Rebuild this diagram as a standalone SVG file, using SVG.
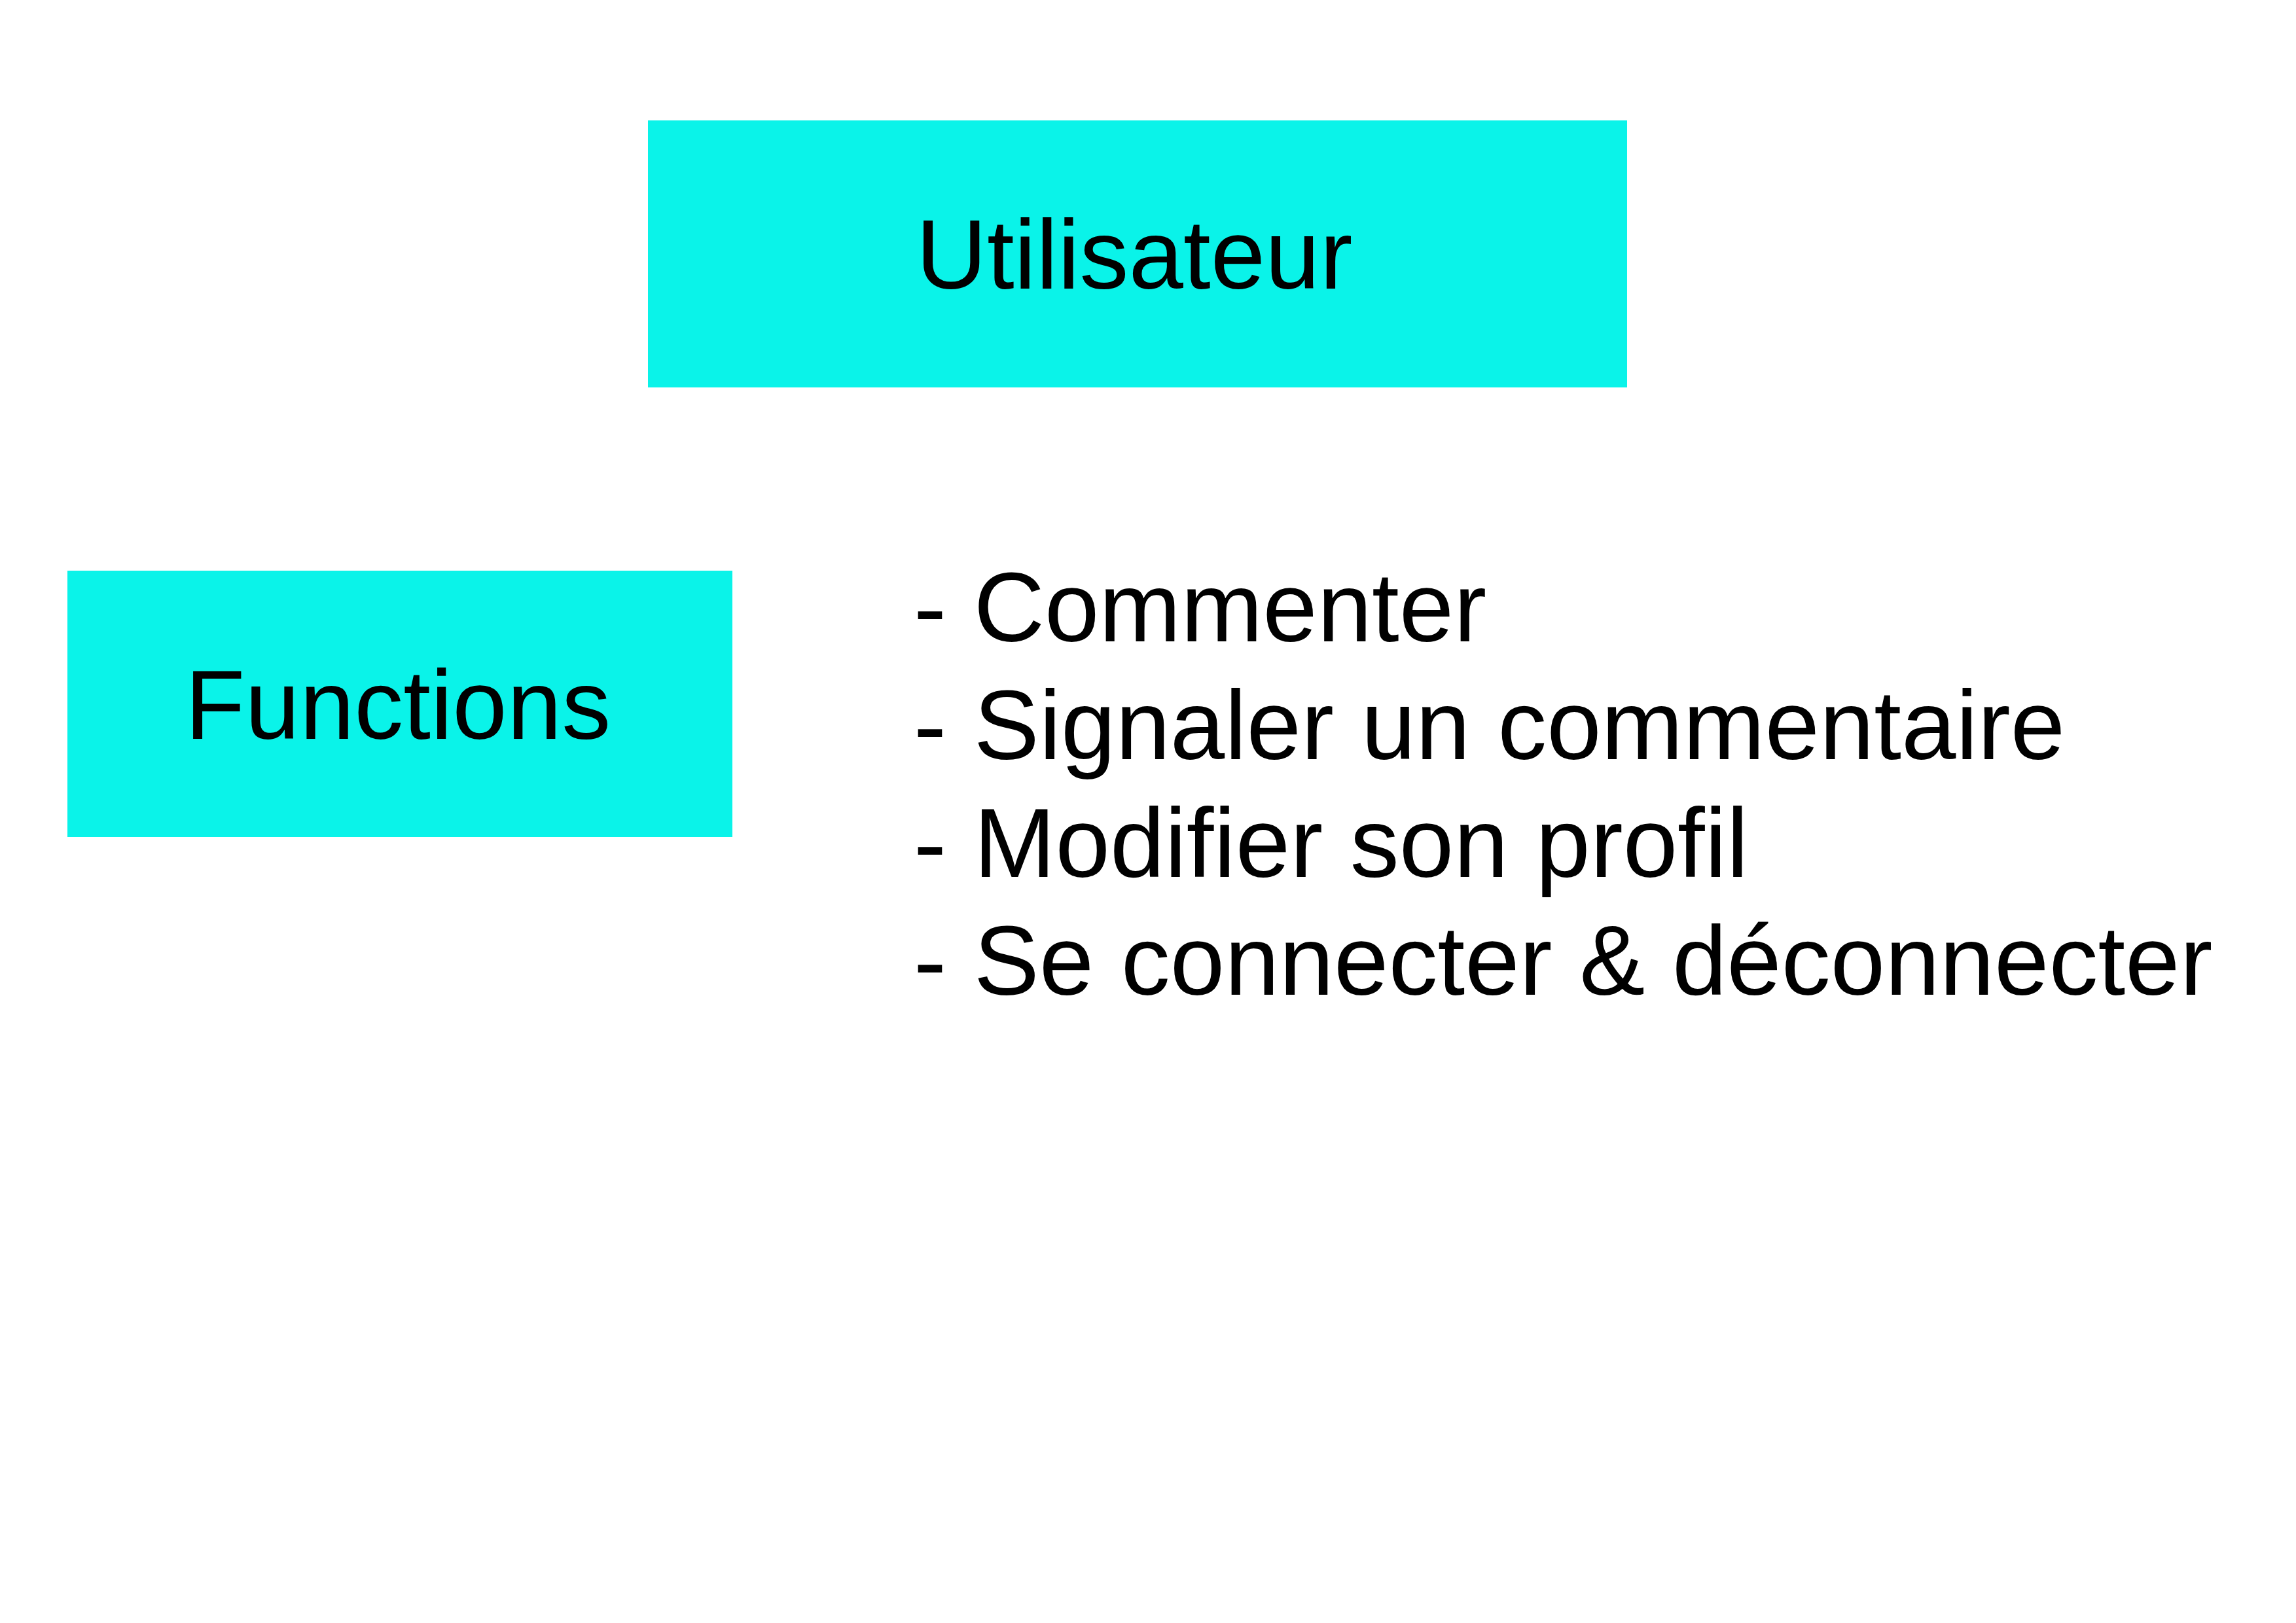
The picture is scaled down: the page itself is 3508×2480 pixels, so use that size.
<svg xmlns="http://www.w3.org/2000/svg" width="3508" height="2480" viewBox="0 0 3508 2480">
  <style>
    .box { fill: #0AF3E9; }
    .lbl { font-family: "Liberation Sans", Arial, sans-serif; font-size: 150px; fill: #000000; }
    .mid { text-anchor: middle; }
  </style>
  <rect x="0" y="0" width="3508" height="2480" fill="#FFFFFF"/>
  <g id="node-utilisateur">
    <rect class="box" x="990" y="184" width="1496" height="408"/>
    <text class="lbl mid" x="1733" y="441">Utilisateur</text>
  </g>
  <g id="node-functions">
    <rect class="box" x="103" y="872" width="1016" height="407"/>
    <text class="lbl mid" x="608" y="1129">Functions</text>
  </g>
  <g id="node-list">
    <text class="lbl" x="1396" y="980">- Commenter</text>
    <text class="lbl" x="1396" y="1160">- Signaler un commentaire</text>
    <text class="lbl" x="1396" y="1340">- Modifier son profil</text>
    <text class="lbl" x="1396" y="1520">- Se connecter &amp; déconnecter</text>
  </g>
  <g id="connectors"></g>
</svg>
